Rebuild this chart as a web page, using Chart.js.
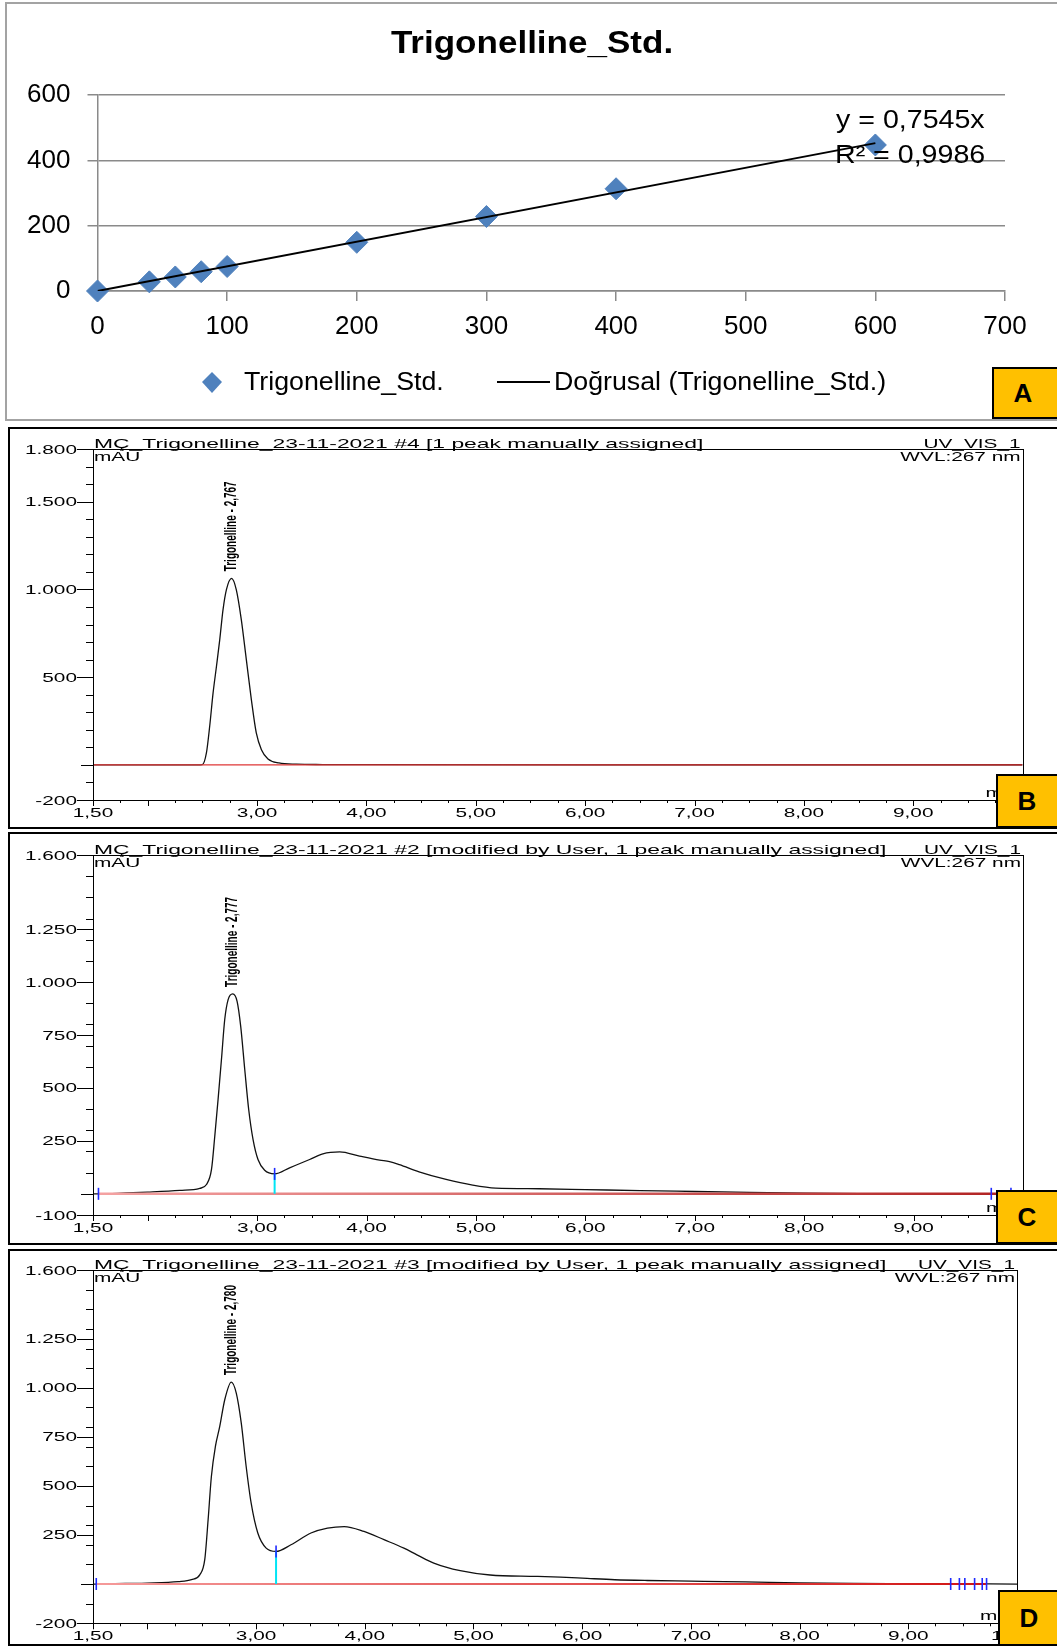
<!DOCTYPE html>
<html>
<head>
<meta charset="utf-8">
<script src="https://cdn.jsdelivr.net/npm/chart.js@4.4.1/dist/chart.umd.min.js"></script>
<style>
  body { margin:0; width:1057px; height:1647px; position:relative; overflow:hidden; background:#fff; font-family:"Liberation Sans", Arial, sans-serif; }
  canvas { position:absolute; left:0; }
  .frame { position:absolute; box-sizing:border-box; }
  .tag { position:absolute; box-sizing:border-box; width:68px; background:#ffc000; border:2px solid #000;
         font:bold 26px "Liberation Sans", Arial, sans-serif; display:flex; align-items:center; justify-content:center; padding-right:6px; }
</style>
</head>
<body>
<div class="frame" style="left:5px;top:2px;width:1070px;height:419px;border:2px solid #a3a3a3;"></div>
<div class="frame" style="left:8px;top:427px;width:1070px;height:402px;border:2px solid #000;"></div>
<div class="frame" style="left:8px;top:832px;width:1070px;height:413px;border:2px solid #000;"></div>
<div class="frame" style="left:8px;top:1249px;width:1070px;height:397px;border:2px solid #000;"></div>

<canvas id="chartA" width="1057" height="420" style="top:0"></canvas>
<canvas id="chartB" width="1057" height="408" style="top:424px"></canvas>
<canvas id="chartC" width="1057" height="414" style="top:831px"></canvas>
<canvas id="chartD" width="1057" height="400" style="top:1247px"></canvas>

<div class="tag" style="left:992px;top:367px;height:52px;">A</div>
<div class="tag" style="left:996px;top:774px;height:54px;">B</div>
<div class="tag" style="left:996px;top:1190px;height:54px;">C</div>
<div class="tag" style="left:998px;top:1590px;height:56px;">D</div>

<script>
// ---- panel A: calibration ----
const stdConc = [0, 40, 60, 80, 100, 200, 300, 400, 600];
const stdArea = [0, 28, 43, 59, 75, 149, 228, 313, 447];
const trendSlope = 0.7545;
const trendRange = [0, 600];
const eqLines = ['y = 0,7545x', 'R² = 0,9986'];
const titleA = 'Trigonelline_Std.';
const legendA = ['Trigonelline_Std.', 'Doğrusal (Trigonelline_Std.)'];

// ---- chromatograms (time in min, signal in mAU) ----
const timeB = [1.5, 2.0, 2.4, 2.5, 2.537, 2.567, 2.598, 2.629, 2.659, 2.689, 2.72, 2.767, 2.81, 2.856, 2.902, 2.948, 2.993, 3.04, 3.1, 3.2, 3.36, 3.6, 4.0, 6.0, 10.0];
const signalB = [0, 0, 0, 2, 68, 220, 410, 562, 714, 885, 999, 1063, 999, 828, 600, 372, 182, 87, 34, 11, 4, 2, 1, 0, 0];

const timeC = [1.5, 1.55, 1.8, 2.0, 2.294, 2.476, 2.537, 2.583, 2.613, 2.643, 2.674, 2.704, 2.735, 2.777, 2.817, 2.85, 2.887, 2.923, 2.963, 3.008, 3.069, 3.16, 3.297, 3.48, 3.601, 3.755, 3.936, 4.12, 4.21, 4.3, 4.48, 4.727, 4.97, 5.18, 5.58, 6.0, 6.5, 7.0, 7.5, 8.0, 8.5, 9.0, 10.0];
const signalC = [0, 0, 4, 8, 16, 26, 44, 115, 272, 445, 634, 823, 917, 944, 909, 791, 587, 398, 256, 162, 111, 94, 123, 162, 189, 198, 178, 159, 152, 138, 104, 68, 41, 27, 24, 20, 15, 11, 7, 3, 1, 0, 0];

const timeD = [1.5, 1.53, 1.8, 2.0, 2.284, 2.406, 2.482, 2.528, 2.559, 2.589, 2.626, 2.666, 2.712, 2.772, 2.818, 2.864, 2.909, 2.955, 3.016, 3.093, 3.184, 3.321, 3.505, 3.657, 3.81, 3.993, 4.177, 4.36, 4.48, 4.635, 4.878, 5.153, 5.58, 5.8, 6.0, 6.3, 6.6, 7.0, 7.5, 8.0, 8.5, 9.0, 9.5, 10.0];
const signalD = [0, 0, 3, 5, 12, 22, 47, 124, 328, 548, 701, 803, 939, 1029, 973, 820, 599, 412, 260, 183, 166, 200, 260, 285, 293, 268, 226, 183, 149, 107, 68, 46, 39, 35, 30, 22, 18, 15, 11, 6, 3, 2, 1, 0];

// integration delimiters and drop lines
const delimTimeC = [1.55, 3.16, 9.71, 9.89];
const delimSignalC = [0, 94, 0, 0];
const delimTimeD = [1.53, 3.184, 9.39, 9.47, 9.52, 9.61, 9.68, 9.72];
const delimSignalD = [0, 166, 0, 0, 0, 0, 0, 0];

const xLabelVals = [1.5, 3, 4, 5, 6, 7, 8, 9, 10];
const yLabelsB = [1800, 1500, 1000, 500, -200];
const yLabelsC = [1600, 1250, 1000, 750, 500, 250, -100];
const yLabelsD = [1600, 1250, 1000, 750, 500, 250, -200];

const FONT = '"Liberation Sans", Arial, sans-serif';
const SX = 1.6;

function wide(ctx, txt, x, y, align, font, sx) {
  ctx.save();
  ctx.font = font;
  ctx.textBaseline = 'alphabetic';
  ctx.textAlign = 'left';
  const w = ctx.measureText(txt).width * sx;
  const x0 = align === 'right' ? x - w : align === 'center' ? x - w / 2 : x;
  ctx.translate(x0, y);
  ctx.scale(sx, 1);
  ctx.fillText(txt, 0, 0);
  ctx.restore();
}

const annotA = {
  id: 'annotA',
  afterDraw(chart) {
    const ctx = chart.ctx;
    ctx.fillStyle = '#000';
    wide(ctx, titleA, 532, 53, 'center', 'bold 31px ' + FONT, 1.13);
    wide(ctx, eqLines[0], 836, 128, 'left', '26px ' + FONT, 1.1);
    wide(ctx, eqLines[1], 835, 163, 'left', '26px ' + FONT, 1.1);
    // legend
    ctx.save();
    ctx.fillStyle = '#4f81bd';
    ctx.beginPath();
    ctx.moveTo(212, 372); ctx.lineTo(222, 382); ctx.lineTo(212, 393); ctx.lineTo(202, 382);
    ctx.closePath(); ctx.fill();
    ctx.strokeStyle = '#000'; ctx.lineWidth = 2;
    ctx.beginPath(); ctx.moveTo(497, 382); ctx.lineTo(550, 382); ctx.stroke();
    ctx.restore();
    ctx.fillStyle = '#000';
    wide(ctx, legendA[0], 244, 390, 'left', '25px ' + FONT, 1.07);
    wide(ctx, legendA[1], 554, 390, 'left', '25px ' + FONT, 1.07);
  }
};

new Chart(document.getElementById('chartA'), {
  type: 'scatter',
  data: {
    datasets: [
      {
        label: legendA[1],
        data: trendRange.map(x => ({ x: x, y: trendSlope * x })),
        showLine: true, borderColor: '#000', borderWidth: 2, pointRadius: 0, order: 0
      },
      {
        label: legendA[0],
        data: stdConc.map((c, i) => ({ x: c, y: stdArea[i] })),
        pointStyle: 'rectRot', pointRadius: 11, backgroundColor: '#4f81bd', borderColor: '#4f81bd',
        clip: false, order: 1
      }
    ]
  },
  options: {
    responsive: false, animation: false,
    layout: { padding: { left: 0, top: 95, right: 52, bottom: 69 } },
    plugins: { legend: { display: false }, tooltip: { enabled: false } },
    scales: {
      x: {
        type: 'linear', min: 0, max: 700,
        ticks: { stepSize: 100, color: '#000', font: { size: 26, family: FONT }, padding: 10, maxRotation: 0 },
        grid: { drawOnChartArea: false, color: '#8a8a8a', tickLength: 10, lineWidth: 1.5 },
        border: { color: '#8a8a8a', width: 1.5 },
        afterFit: s => { s.height = 60; }
      },
      y: {
        min: 0, max: 600,
        ticks: { stepSize: 200, color: '#000', font: { size: 26, family: FONT }, padding: 17 },
        grid: { color: '#8a8a8a', tickLength: 10, lineWidth: 1.5 },
        border: { color: '#8a8a8a', width: 1.5 },
        afterFit: s => { s.width = 97.5; }
      }
    }
  },
  plugins: [annotA]
});

function fmtY(v) {
  const a = Math.abs(v);
  const s = a >= 1000 ? Math.floor(a / 1000) + '.' + String(a % 1000).padStart(3, '0') : String(a);
  return (v < 0 ? '-' : '') + s;
}
function fmtX(v) { return v.toFixed(2).replace('.', ','); }

function chromAxes(p) {
  return {
    id: 'chromAxes',
    afterDraw(chart) {
      const ctx = chart.ctx, a = chart.chartArea;
      const xs = chart.scales.x, ys = chart.scales.y;
      ctx.save();
      ctx.strokeStyle = '#000'; ctx.lineWidth = 1;
      ctx.strokeRect(Math.round(a.left) + 0.5, Math.round(a.top) + 0.5, Math.round(a.right - a.left), Math.round(a.bottom - a.top));
      // y ticks
      ctx.beginPath();
      for (let v = ys.min; v <= ys.max; v += 100) {
        const y = Math.round(ys.getPixelForValue(v)) + 0.5;
        ctx.moveTo(a.left - 7, y); ctx.lineTo(a.left, y);
      }
      p.yLabels.concat([0]).forEach(v => {
        const y = Math.round(ys.getPixelForValue(v)) + 0.5;
        ctx.moveTo(a.left - (v === 0 ? 12 : 16), y); ctx.lineTo(a.left, y);
      });
      // x ticks
      for (let t = 1.5; t <= 10.001; t += 0.25) {
        const x = Math.round(xs.getPixelForValue(t)) + 0.5;
        const major = t === 1.5 || Math.abs(t - Math.round(t)) < 1e-6;
        ctx.moveTo(x, a.bottom); ctx.lineTo(x, a.bottom + (major ? 6 : 3));
      }
      ctx.stroke();
      ctx.fillStyle = '#000';
      const f = '13px ' + FONT;
      p.yLabels.forEach(v => wide(ctx, fmtY(v), a.left - 16, ys.getPixelForValue(v) + 4.5, 'right', f, SX));
      xLabelVals.forEach(v => wide(ctx, fmtX(v), xs.getPixelForValue(v), a.bottom + 17, 'center', f, SX));
      wide(ctx, 'min', a.right - 37, a.bottom - 3, 'left', f, SX);
      // header
      wide(ctx, p.header, a.left + 1, a.top - 1.2, 'left', f, 1.76);
      wide(ctx, 'UV_VIS_1', a.right - 2, a.top - 1.2, 'right', f, SX);
      wide(ctx, 'mAU', a.left + 1, a.top + 12, 'left', f, SX);
      wide(ctx, 'WVL:267 nm', a.right - 2, a.top + 12, 'right', f, SX);
      // peak label
      const px = xs.getPixelForValue(p.peakTime);
      const py = ys.getPixelForValue(p.peakValue) - 7;
      ctx.translate(px, py);
      ctx.rotate(-Math.PI / 2);
      ctx.scale(1, 1.7);
      ctx.font = 'bold 10px ' + FONT;
      ctx.textBaseline = 'middle';
      ctx.textAlign = 'left';
      ctx.fillText(p.peakLabel, 0, 0);
      ctx.restore();
    }
  };
}

function chrom(id, p) {
  const datasets = [];
  if (p.delimTime) {
    datasets.push({
      data: p.delimTime.map((t, i) => ({ x: t, y: p.delimSignal[i] })),
      pointStyle: 'line', pointRotation: 90, pointRadius: 6, pointBorderWidth: 1.6,
      pointBorderColor: '#1f2bff', showLine: false
    });
    datasets.push({
      data: [{ x: p.dropTime, y: 0 }, { x: p.dropTime, y: p.dropValue }],
      showLine: true, borderColor: '#00e5f5', borderWidth: 2, pointRadius: 0
    });
  }
  datasets.push({
    data: [{ x: p.baseRange[0], y: 0 }, { x: p.baseRange[1], y: 0 }],
    showLine: true, pointRadius: 0, borderWidth: p.baseWidth,
    borderColor: c => {
      const a = c.chart.chartArea;
      if (!a) return p.baseColors[1];
      const g = c.chart.ctx.createLinearGradient(a.left, 0, a.right, 0);
      g.addColorStop(0, p.baseColors[0]);
      g.addColorStop(1, p.baseColors[1]);
      return g;
    }
  });
  datasets.push({
    data: p.time.map((t, i) => ({ x: t, y: p.signal[i] })),
    showLine: true, borderColor: '#111', borderWidth: 1.3, pointRadius: 0,
    cubicInterpolationMode: 'monotone'
  });
  new Chart(document.getElementById(id), {
    type: 'scatter',
    data: { datasets: datasets },
    options: {
      responsive: false, animation: false,
      layout: { padding: p.pad },
      plugins: { legend: { display: false }, tooltip: { enabled: false } },
      scales: {
        x: { type: 'linear', display: false, min: 1.5, max: 10 },
        y: { display: false, min: p.ymin, max: p.ymax }
      }
    },
    plugins: [chromAxes(p)]
  });
}

chrom('chartB', {
  time: timeB, signal: signalB, ymin: -200, ymax: 1800, yLabels: yLabelsB,
  pad: { left: 93, top: 25, right: 34.4, bottom: 32 },
  header: 'MÇ_Trigonelline_23-11-2021 #4 [1 peak manually assigned]',
  peakTime: 2.767, peakValue: 1063, peakLabel: 'Trigonelline - 2,767',
  baseRange: [1.5, 10], baseColors: ['#e23a3a', '#c81e1e'], baseWidth: 1.3
});

chrom('chartC', {
  time: timeC, signal: signalC, ymin: -100, ymax: 1600, yLabels: yLabelsC,
  pad: { left: 93, top: 24, right: 34, bottom: 30 },
  header: 'MÇ_Trigonelline_23-11-2021 #2 [modified by User, 1 peak manually assigned]',
  peakTime: 2.777, peakValue: 944, peakLabel: 'Trigonelline - 2,777',
  delimTime: delimTimeC, delimSignal: delimSignalC, dropTime: 3.16, dropValue: 94,
  baseRange: [1.55, 9.89], baseColors: ['#f5a3a3', '#b02020'], baseWidth: 2.5
});

chrom('chartD', {
  time: timeD, signal: signalD, ymin: -200, ymax: 1600, yLabels: yLabelsD,
  pad: { left: 93, top: 23, right: 40, bottom: 23.7 },
  header: 'MÇ_Trigonelline_23-11-2021 #3 [modified by User, 1 peak manually assigned]',
  peakTime: 2.772, peakValue: 1029, peakLabel: 'Trigonelline - 2,780',
  delimTime: delimTimeD, delimSignal: delimSignalD, dropTime: 3.184, dropValue: 166,
  baseRange: [1.53, 9.72], baseColors: ['#f59a9a', '#d01010'], baseWidth: 2
});
</script>
</body>
</html>
